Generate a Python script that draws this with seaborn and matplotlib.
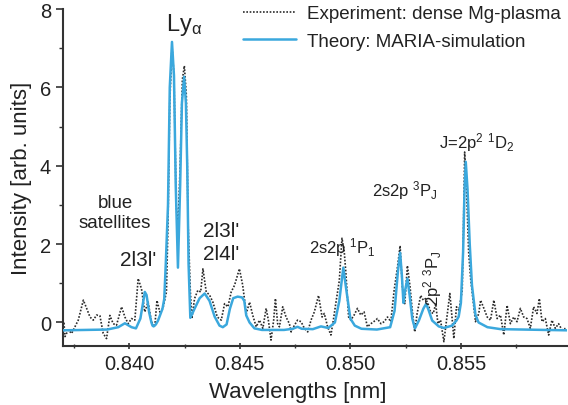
import matplotlib
matplotlib.use("Agg")
import matplotlib.pyplot as plt
import seaborn as sns
import pandas as pd
from matplotlib.ticker import MultipleLocator

# ---------------- data ----------------
exp_wl = [0.83700, 0.83704, 0.83709, 0.83724, 0.83739, 0.83754, 0.83769, 0.83792, 0.83807, 0.83822,
          0.83837, 0.83852, 0.83867, 0.83882, 0.83897, 0.83912, 0.83927, 0.83942, 0.83965, 0.83980,
          0.83995, 0.84010, 0.84025, 0.84040, 0.84055, 0.84070, 0.84085, 0.84100, 0.84115, 0.84125,
          0.84138, 0.84152, 0.84168,
          0.84175, 0.84183, 0.84193, 0.84202, 0.84212, 0.84220, 0.84230, 0.84240, 0.84249, 0.84258,
          0.84266, 0.84276,
          0.84283, 0.84295, 0.84310, 0.84323, 0.84333, 0.84348, 0.84363, 0.84378, 0.84398, 0.84416,
          0.84431, 0.84446, 0.84461, 0.84476, 0.84498, 0.84513, 0.84529, 0.84544, 0.84558, 0.84574,
          0.84589, 0.84604, 0.84619, 0.84629, 0.84641, 0.84653,
          0.84661, 0.84671, 0.84679, 0.84694, 0.84709, 0.84724, 0.84732, 0.84747, 0.84761, 0.84777,
          0.84792, 0.84807, 0.84822, 0.84837, 0.84856, 0.84872, 0.84882, 0.84897, 0.84912, 0.84923,
          0.84935, 0.84950, 0.84962, 0.84972, 0.84980, 0.84992, 0.85002, 0.85017, 0.85032, 0.85047,
          0.85062, 0.85077, 0.85093, 0.85115,
          0.85122, 0.85138, 0.85153, 0.85168, 0.85183, 0.85198, 0.85213, 0.85225, 0.85235, 0.85246,
          0.85258, 0.85270, 0.85280, 0.85291, 0.85302, 0.85318, 0.85330, 0.85340, 0.85351, 0.85363,
          0.85375, 0.85386, 0.85396, 0.85408, 0.85423, 0.85438, 0.85450, 0.85461, 0.85468, 0.85480,
          0.85491, 0.85506,
          0.85512, 0.85517, 0.85525, 0.85535,
          0.85544, 0.85566, 0.85581, 0.85589, 0.85604, 0.85619, 0.85634, 0.85649, 0.85664, 0.85679,
          0.85694, 0.85709, 0.85724, 0.85739, 0.85754, 0.85769, 0.85784, 0.85799, 0.85814, 0.85829,
          0.85844, 0.85855, 0.85867, 0.85882, 0.85897, 0.85912, 0.85927, 0.85942, 0.85957, 0.85973]
exp_int = [-0.03, 0.02, -0.36, -0.19, -0.28, -0.11, 0.06, 0.57, 0.36, 0.14,
           0.06, 0.19, 0.17, -0.28, -0.41, 0.18, -0.03, -0.07, 0.40, 0.14,
           -0.03, 0.10, 0.06, 1.12, 0.86, 0.27, 0.52, 0.02, -0.11, 0.56,
           0.27, 0.36, 0.78,
           2.5, 5.6, 7.05, 6.3, 3.0, 2.4, 4.0, 6.2, 6.55, 5.8,
           2.5, 0.8,
           0.10, 0.61, 0.82, 0.78, 1.37, 0.78, 0.70, 0.52, 0.14, 0.06,
           0.48, 0.40, 0.78, 0.95, 1.37, 0.95, 0.23, 0.52, 0.19, -0.11,
           0.06, -0.15, 0.36, 0.06, -0.45, 0.06,
           0.61, -0.03, -0.11, 0.40, 0.14, -0.03, -0.24, -0.07, 0.06, 0.02,
           -0.15, -0.24, 0.06, 0.27, 0.69, 0.14, 0.23, -0.11, -0.32, 0.06,
           0.52, 1.07, 2.15, 1.83, 1.24, 0.14, 0.06, 0.19, 0.36, 0.19,
           0.27, -0.11, -0.03, 0.06,
           0.10, -0.03, 0.02, 0.14, 0.02, 0.82, 1.41, 1.96, 0.91, 0.48,
           1.45, 0.91, 0.31, -0.24, 0.23, 0.69, 0.57, 0.61, 0.48, 0.27,
           0.23, 0.48, -0.03, 0.06, -0.49, 0.19, 0.74, 0.06, -0.41, 0.40,
           0.31, 0.82,
           2.5, 4.35, 3.5, 1.8,
           1.12, 0.02, 0.23, 0.57, 0.36, 0.14, 0.06, 0.57, 0.10, 0.19,
           -0.32, 0.44, -0.03, 0.14, 0.02, 0.36, 0.14, 0.10, -0.15, 0.40,
           0.23, 0.61, 0.02, 0.10, -0.32, 0.06, -0.15, -0.03, -0.19, -0.15]

theo_wl = [0.8370, 0.8390, 0.8395, 0.8398, 0.8401, 0.8403, 0.8405, 0.84065, 0.8407, 0.84078,
           0.8409, 0.8410, 0.84105, 0.8411, 0.8412, 0.8413, 0.8414, 0.8415, 0.84158, 0.84165,
           0.84175, 0.84183, 0.84193, 0.84202, 0.84210, 0.84220, 0.84230, 0.84238, 0.84248, 0.84256,
           0.84262, 0.84268, 0.84276, 0.84295, 0.84318, 0.84341, 0.84363, 0.84386, 0.84408, 0.84423,
           0.84440, 0.84455, 0.84470, 0.84490, 0.84510, 0.84520, 0.84529, 0.84544, 0.84566, 0.8460,
           0.8470, 0.8474, 0.84761, 0.8478, 0.8483, 0.84867, 0.8490, 0.8493, 0.8495, 0.84968,
           0.8498, 0.8500, 0.8502, 0.8505, 0.8512, 0.8518, 0.8520, 0.85215, 0.85225, 0.85233,
           0.85240, 0.85247, 0.85258, 0.85268, 0.85280, 0.85292, 0.85310, 0.85330, 0.85343, 0.85355,
           0.85370, 0.85400, 0.85423, 0.85460, 0.85480, 0.85490, 0.85500, 0.85510, 0.85516, 0.85522,
           0.85530, 0.85540, 0.85550, 0.85566, 0.8558, 0.8562, 0.8568, 0.8598]
theo_int = [-0.20, -0.18, -0.12, -0.02, -0.12, -0.15, 0.10, 0.60, 0.78, 0.70,
            0.25, 0.00, -0.08, -0.10, -0.05, 0.05, 0.20, 0.35, 0.60, 1.5,
            3.0, 6.0, 7.16, 6.3, 3.5, 1.4, 3.5, 5.6, 6.27, 5.6,
            4.0, 1.5, 0.12, 0.35, 0.62, 0.74, 0.55, 0.15, -0.08, -0.12,
            -0.05, 0.35, 0.62, 0.66, 0.64, 0.55, 0.18, 0.00, -0.15, -0.19,
            -0.19, -0.16, -0.11, -0.16, -0.17, -0.10, -0.14, 0.0, 0.55, 1.40,
            0.90, 0.10, -0.08, -0.16, -0.18, -0.12, 0.3, 1.3, 1.78, 1.2,
            0.5, 0.8, 1.12, 0.7, 0.1, -0.15, 0.05, 0.35, 0.48, 0.30,
            0.05, -0.10, -0.14, -0.08, 0.05, 0.15, 0.5, 1.8, 3.3, 4.10,
            3.4, 2.0, 0.95, 0.19, 0.0, -0.12, -0.17, -0.20]

x_ticks = [0.840, 0.845, 0.850, 0.855]
x_tick_labels = ["0.840", "0.845", "0.850", "0.855"]
y_ticks = [0, 2, 4, 6, 8]

# ---------------- style ----------------
sns.set_style("ticks")
plt.rcParams["font.family"] = ["Liberation Sans", "DejaVu Sans"]
plt.rcParams["mathtext.fontset"] = "custom"
plt.rcParams["mathtext.rm"] = "Liberation Sans"
plt.rcParams["mathtext.it"] = "Liberation Sans:italic"
plt.rcParams["mathtext.default"] = "regular"

fig = plt.figure(figsize=(5.68, 4.06), dpi=100)
ax = fig.add_axes([63 / 568, 1 - 347 / 406, (567 - 63) / 568, (347 - 10) / 406])

exp_df = pd.DataFrame({"wl": exp_wl, "I": exp_int})
theo_df = pd.DataFrame({"wl": theo_wl, "I": theo_int})

sns.lineplot(data=exp_df, x="wl", y="I", ax=ax, color="#2b2b2b", lw=1.2,
             linestyle=(0, (1, 1)), label="Experiment: dense Mg-plasma", sort=False, zorder=2)
sns.lineplot(data=theo_df, x="wl", y="I", ax=ax, color="#3ba8dd", lw=1.8,
             label="Theory: MARIA-simulation", sort=False, zorder=3)

ax.set_xlim(0.8370, 0.8598)
ax.set_ylim(-0.6, 8)
ax.set_xticks(x_ticks)
ax.set_xticklabels(x_tick_labels)
ax.set_yticks(y_ticks)
ax.xaxis.set_minor_locator(MultipleLocator(0.0025))
ax.yaxis.set_minor_locator(MultipleLocator(1))
ax.tick_params(axis="both", which="major", labelsize=14.5, length=5, width=1.2, colors="#333333",
               labelcolor="#222222")
ax.tick_params(axis="both", which="minor", length=3, width=1.0, colors="#333333")
ax.tick_params(axis="x", which="both", direction="inout")
for s in ["top", "right"]:
    ax.spines[s].set_visible(False)
for s in ["left", "bottom"]:
    ax.spines[s].set_linewidth(1.5)
    ax.spines[s].set_color("#333333")

ax.set_xlabel("Wavelengths [nm]", fontsize=16, color="#222222")
ax.xaxis.set_label_coords((298 - 63) / 504, -0.105)
ax.set_ylabel("Intensity [arb. units]", fontsize=16, color="#222222")
ax.yaxis.set_label_coords(-0.062, 0.5)

leg = ax.legend(loc="upper left", bbox_to_anchor=(243 / 568, 1 - 6 / 406), bbox_transform=fig.transFigure,
                frameon=False, fontsize=13.5, handlelength=2.8, handletextpad=0.6,
                labelspacing=0.55, borderpad=0, borderaxespad=0)
for t in leg.get_texts():
    t.set_color("#222222")

tc = "#222222"
ax.text(0.8425, 7.62, r"Ly$_{\alpha}$", fontsize=17, ha="center", va="center", color=tc)
ax.text(0.83935, 2.8, "blue\nsatellites", fontsize=13.5, ha="center", va="center",
        color=tc, linespacing=1.25)
ax.text(0.8404, 1.62, "2l3l'", fontsize=15, ha="center", va="center", color=tc)
ax.text(0.84417, 2.05, "2l3l'\n2l4l'", fontsize=15, ha="center", va="center",
        color=tc, linespacing=1.3)
ax.text(0.84963, 1.95, r"2s2p $^{1}$P$_{1}$", fontsize=12, ha="center", va="center", color=tc)
ax.text(0.85247, 3.4, r"2s2p $^{3}$P$_{J}$", fontsize=12, ha="center", va="center", color=tc)
ax.text(0.8537, 1.15, r"2p$^{2}$ $^{3}$P$_{J}$", fontsize=12, ha="center", va="center",
        rotation=90, color=tc)
ax.text(0.85572, 4.62, r"J=2p$^{2}$ $^{1}$D$_{2}$", fontsize=12, ha="center", va="center", color=tc)

fig.savefig("out.png", dpi=100)
